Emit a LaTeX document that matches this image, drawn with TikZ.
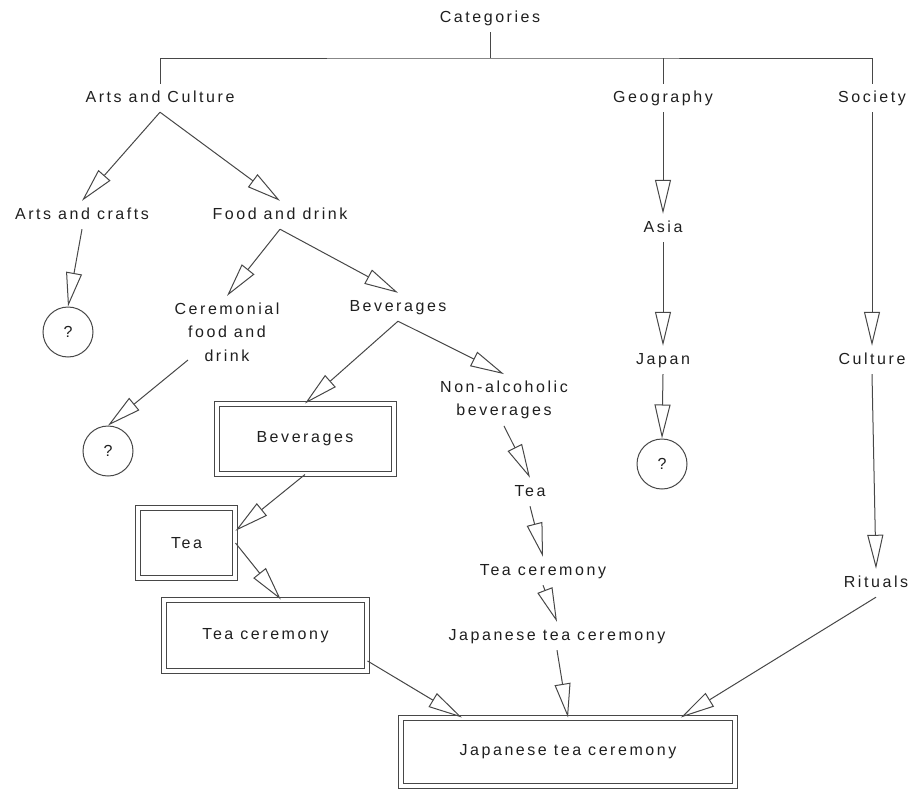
\documentclass[tikz,border=0pt]{standalone}
\usepackage{fontspec}
\setmainfont{Liberation Sans}[LetterSpace=16]
\usetikzlibrary{arrows.meta,calc}
\colorlet{ln}{black!72}
\begin{document}
\begin{tikzpicture}[
 x=1pt, y=-1pt,
 every node/.style={font=\fontsize{16}{23.5}\selectfont, text=black!88},
 lbl/.style={inner xsep=3pt, inner ysep=6.5pt, text height=11.5pt, text depth=3.5pt},
 mlbl/.style={inner xsep=3pt, inner ysep=6.5pt, align=center},
 qc/.style={circle, draw=ln, line width=1pt, minimum size=50pt, inner sep=0pt},
 dbox/.style={draw=ln, line width=1pt, double, double distance=4pt, inner sep=0pt},
 conn/.style={draw=ln, line width=1pt},
 arr/.style={conn, -{Triangle[length=34pt,width=16pt,fill=white]}},
]
\useasboundingbox (0,0) rectangle (911,790);

% top level
\node[lbl] (cat) at (490,18) {Categories};
\coordinate (bar) at (490,58);
\node[lbl] (ac) at (160,98) {Arts and Culture};
\node[lbl] (geo) at (663,98) {Geography};
\node[lbl] (soc) at (872,98) {Society};

% second level
\node[lbl] (acr) at (82,215) {Arts and crafts};
\node[lbl] (fd) at (280,215) {Food and drink};
\node[lbl] (asia) at (663,228) {Asia};
\node[qc] (q1) at (68,332) {?};
\node[mlbl] (cfd) at (227,332) {Ceremonial\\food and\\drink};
\node[lbl] (bev) at (398,307) {Beverages};
\node[lbl] (jap) at (663,360) {Japan};
\node[lbl] (cul) at (872,360) {Culture};
\node[qc] (q2) at (108,451) {?};
\node[mlbl] (nab) at (504,400) {Non-alcoholic\\beverages};
\node[dbox, minimum width=177pt, minimum height=70pt] (bevbox) at (305,439) {Beverages};
\node[qc] (q3) at (662,464) {?};
\node[lbl] (tea2) at (530,492) {Tea};
\node[dbox, minimum width=97pt, minimum height=70pt] (teabox) at (186.5,543) {Tea};
\node[lbl] (tc2) at (543,571) {Tea ceremony};
\node[lbl] (rit) at (876,583) {Rituals};
\node[dbox, minimum width=203pt, minimum height=71pt] (tcbox) at (265.5,635.5) {Tea ceremony};
\node[lbl] (jtc2) at (557,636) {Japanese tea ceremony};
\node[dbox, minimum width=334pt, minimum height=68pt] (jbox) at (568,752) {Japanese tea ceremony};

% tree bar
\draw[conn] (cat.south) -- (bar);
\draw[conn] (ac.north) |- (bar) -| (soc.north);
\draw[conn] (bar -| geo.north) -- (geo.north);

% arrows
\draw[arr] (ac.south) -- (acr.north);
\draw[arr] (ac.south) -- (fd.north);
\draw[arr] (acr.south) -- (q1.north);
\draw[arr] (fd.south) -- (cfd.north);
\draw[arr] (fd.south) -- (bev.north);
\draw[arr] ($(cfd.center)+(-39,28)$) -- (q2.north);
\draw[arr] (bev.south) -- (bevbox.north);
\draw[arr] (bev.south) -- (nab.north);
\draw[arr] (bevbox.south) -- (teabox.14);
\draw[arr] (teabox.east) -- (tcbox.67);
\draw[arr] (tcbox.-14) -- (jbox.162);
\draw[arr] (nab.south) -- (tea2.north);
\draw[arr] (tea2.south) -- (tc2.north);
\draw[arr] (tc2.south) -- (jtc2.north);
\draw[arr] (jtc2.south) -- (jbox.north);
\draw[arr] (geo.south) -- (asia.north);
\draw[arr] (asia.south) -- (jap.north);
\draw[arr] (jap.south) -- (q3.north);
\draw[arr] (soc.south) -- (cul.north);
\draw[arr] (cul.south) -- (rit.north);
\draw[arr] (rit.south) -- (jbox.17);
\end{tikzpicture}
\end{document}
